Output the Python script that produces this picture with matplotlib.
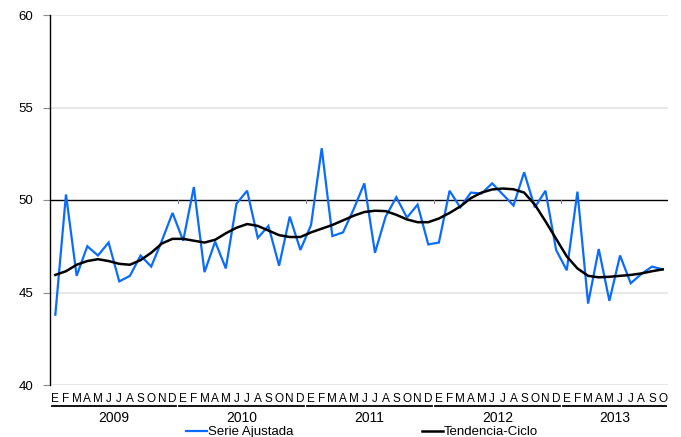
import numpy as np
import matplotlib
matplotlib.use("Agg")
import matplotlib.pyplot as plt
from matplotlib.transforms import blended_transform_factory

plt.rcParams['font.family'] = ['Liberation Sans', 'DejaVu Sans']

years = ['2009', '2010', '2011', '2012', '2013']
months = ['E', 'F', 'M', 'A', 'M', 'J', 'J', 'A', 'S', 'O', 'N', 'D']

serie = [43.8, 50.3, 45.9, 47.5, 47.0, 47.7, 45.6, 45.9, 47.0, 46.4, 47.8, 49.3,
         47.8, 50.7, 46.1, 47.75, 46.3, 49.8, 50.5, 47.95, 48.6, 46.45, 49.1, 47.3,
         48.65, 52.8, 48.05, 48.25, 49.5, 50.9, 47.15, 49.1, 50.15, 49.05, 49.75, 47.6,
         47.7, 50.5, 49.6, 50.4, 50.35, 50.9, 50.3, 49.7, 51.5, 49.6, 50.5, 47.3,
         46.2, 50.45, 44.4, 47.35, 44.55, 47.0, 45.5, 46.0, 46.4, 46.25]

tendencia = [45.95, 46.15, 46.5, 46.7, 46.8, 46.7, 46.55, 46.5, 46.75, 47.15, 47.65, 47.9,
             47.9, 47.8, 47.7, 47.85, 48.2, 48.5, 48.7, 48.6, 48.35, 48.1, 48.0, 48.0,
             48.25, 48.45, 48.65, 48.9, 49.15, 49.35, 49.42, 49.4, 49.2, 48.95, 48.8, 48.8,
             49.0, 49.3, 49.65, 50.1, 50.4, 50.57, 50.62, 50.58, 50.4, 49.75, 48.85, 47.9,
             46.95, 46.3, 45.9, 45.82, 45.85, 45.9, 45.95, 46.03, 46.15, 46.25]

n = len(serie)
x = np.arange(n)
month_labels = [months[i % 12] for i in range(n)]

fig = plt.figure(figsize=(6.81, 4.37), dpi=100)
ax = fig.add_axes([50 / 681, 52 / 437, 618 / 681, 370 / 437])

ax.set_xlim(-0.5, n - 0.5)
ax.set_ylim(40, 60)

# horizontal grid
for v in [40, 45, 55, 60]:
    ax.axhline(v, color='#e8e8e8', lw=1.5, zorder=0)
ax.axhline(50, color='black', lw=1.0, zorder=1)

# small ticks on the 50 line at year boundaries
for b in range(12, n, 12):
    ax.plot([b - 0.5, b - 0.5], [50, 49.82], color='#888888', lw=0.8, zorder=1)

l1, = ax.plot(x, serie, color='#0a6cff', lw=1.6, solid_joinstyle='miter', zorder=3,
              label='Serie Ajustada')
l2, = ax.plot(x, tendencia, color='black', lw=1.8, solid_joinstyle='round', zorder=4,
              label='Tendencia-Ciclo')

for s in ['top', 'right', 'bottom']:
    ax.spines[s].set_visible(False)
ax.spines['left'].set_linewidth(1.0)

ax.set_yticks([40, 45, 50, 55, 60])
ax.tick_params(axis='y', length=5, color='#888888', labelsize=9.5, pad=7)
ax.set_xticks(x)
ax.set_xticklabels(month_labels, fontsize=8.5)
ax.tick_params(axis='x', length=0, pad=6)

trans = blended_transform_factory(ax.transData, ax.transAxes)
for i, yr in enumerate(years):
    start = i * 12
    end = min(start + 11, n - 1)
    ax.plot([start - 0.35, end + 0.35], [-0.056, -0.056], color='black', lw=1.3,
            transform=trans, clip_on=False)
    ax.text((start + end) / 2, -0.088, yr, transform=trans, ha='center', va='center',
            fontsize=10)

fig.legend(handles=[l1, l2], loc='center', bbox_to_anchor=(362 / 681, 1 - 432 / 437),
           ncol=2, frameon=False, fontsize=9.5, handlelength=1.55, handletextpad=0.05,
           columnspacing=9.8, borderpad=0, borderaxespad=0)

fig.savefig('out.png', dpi=100)
